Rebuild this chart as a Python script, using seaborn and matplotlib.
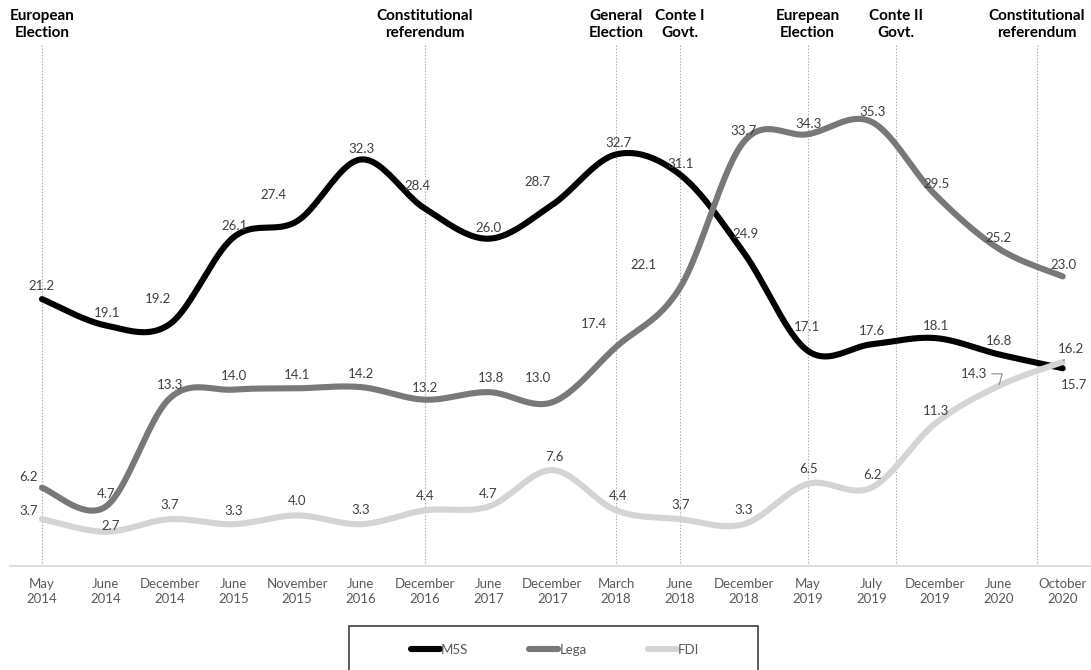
import numpy as np
import pandas as pd
import matplotlib
matplotlib.use("Agg")
import matplotlib.pyplot as plt
import seaborn as sns
from matplotlib.patches import Rectangle
from matplotlib.transforms import blended_transform_factory

# ---------------- data ----------------
periods = ["May\n2014", "June\n2014", "December\n2014", "June\n2015", "November\n2015",
           "June\n2016", "December\n2016", "June\n2017", "December\n2017", "March\n2018",
           "June\n2018", "December\n2018", "May\n2019", "July\n2019", "December\n2019",
           "June\n2020", "October\n2020"]
m5s = [21.2, 19.1, 19.2, 26.1, 27.4, 32.3, 28.4, 26.0, 28.7, 32.7, 31.1, 24.9, 17.1, 17.6, 18.1, 16.8, 15.7]
lega = [6.2, 4.7, 13.3, 14.0, 14.1, 14.2, 13.2, 13.8, 13.0, 17.4, 22.1, 33.7, 34.3, 35.3, 29.5, 25.2, 23.0]
fdi = [3.7, 2.7, 3.7, 3.3, 4.0, 3.3, 4.4, 4.7, 7.6, 4.4, 3.7, 3.3, 6.5, 6.2, 11.3, 14.3, 16.2]
parties = ["M5S", "Lega", "FDI"]
events = ["European\nElection", "Constitutional\nreferendum", "General\nElection", "Conte I\nGovt.",
          "Eurepean\nElection", "Conte II\nGovt.", "Constitutional\nreferendum"]
event_pos = [0, 6, 9, 10, 12, 13.38, 15.59]

# ---------------- styling / layout ----------------
colors = {"M5S": "#000000", "Lega": "#787878", "FDI": "#d4d4d4"}
m5s_off = [(0, 13), (1, 12), (-12, 25), (1, 11), (-24, 26), (1, 10), (-7, 23), (0, 11), (-15, 23),
           (2, 11), (1, 11), (2, 19), (-1, 24), (1, 13), (1, 12), (0, 13), (11, -17)]
lega_off = [(-13, 11), (0, 13), (0, 13), (1, 14), (0, 13), (0, 13), (0, 12), (2, 14), (-14, 24),
            (-22, 23), (-36, 23), (0, 11), (1, 10), (1, 10), (1, 11), (0, 11), (1, 11)]
fdi_off = [(-13, 8), (5, 6), (0, 14), (0, 13), (0, 14), (0, 14), (0, 14), (0, 13), (2, 13),
           (2, 14), (1, 14), (0, 14), (1, 15), (1, 13), (1, 13), (-25, 12), (8, 13)]
leader_style = {("FDI", 15): "angle,angleA=0,angleB=75,rad=0",
                ("FDI", 16): "arc3,rad=0"}

sns.set_theme(style="white")
plt.rcParams["font.family"] = ["Lato", "DejaVu Sans"]


def smooth(vals, n=24):
    """Excel-like smoothed line (Catmull-Rom Bezier through the points)."""
    P = np.column_stack([np.arange(len(vals), dtype=float), np.asarray(vals, float)])
    Pe = np.vstack([P[0], P, P[-1]])
    xs, ys = [], []
    t = np.linspace(0, 1, n, endpoint=False)[:, None]
    for i in range(len(P) - 1):
        p0, p1, p2, p3 = Pe[i], Pe[i + 1], Pe[i + 2], Pe[i + 3]
        b1 = p1 + (p2 - p0) / 6.0
        b2 = p2 - (p3 - p1) / 6.0
        c = ((1 - t) ** 3) * p1 + 3 * ((1 - t) ** 2) * t * b1 + 3 * (1 - t) * t ** 2 * b2 + t ** 3 * p2
        xs.extend(c[:, 0]); ys.extend(c[:, 1])
    xs.append(P[-1, 0]); ys.append(P[-1, 1])
    return xs, ys


series = {"M5S": m5s, "Lega": lega, "FDI": fdi}
offsets = {"M5S": m5s_off, "Lega": lega_off, "FDI": fdi_off}
rows = []
for p in parties:
    xs, ys = smooth(series[p])
    for k, (a, b) in enumerate(zip(xs, ys)):
        rows.append({"party": p, "x": a, "y": b, "order": k})
df = pd.DataFrame(rows)

W, H = 1091, 670
fig = plt.figure(figsize=(W / 100, H / 100), dpi=100)
ax = fig.add_axes([10.1 / W, 1 - 565.7 / H, (1094.6 - 10.1) / W, (565.7 - 45) / H])

for p in event_pos:
    ax.axvline(p, color="#a6a6a6", lw=0.8, ls=(0, (1.2, 1.6)), zorder=1)

sns.lineplot(data=df, x="x", y="y", hue="party", hue_order=parties, palette=colors,
             sort=False, estimator=None, units="party", linewidth=4.4, ax=ax,
             solid_capstyle="round", solid_joinstyle="round", zorder=3)
handles, labels = ax.get_legend_handles_labels()
if ax.get_legend() is not None:
    ax.get_legend().remove()

ax.set_xlim(-0.5, 16.5)
ax.set_ylim(0, 41.4)
ax.set_xlabel("")
ax.set_ylabel("")
ax.set_yticks([])
ax.set_xticks(range(len(periods)))
ax.set_xticklabels(periods)
ax.tick_params(axis="x", length=0, pad=8.5, labelsize=9.5, colors="#595959")
for lbl in ax.get_xticklabels():
    lbl.set_linespacing(1.32)
for s in ["left", "right", "top"]:
    ax.spines[s].set_visible(False)
ax.spines["bottom"].set_color("#d9d9d9")
ax.spines["bottom"].set_linewidth(1.2)

# data labels
for p in parties:
    for i, v in enumerate(series[p]):
        dx, dy = offsets[p][i]
        kw = {}
        if (p, i) in leader_style:
            kw["arrowprops"] = dict(arrowstyle="-", color="#8c8c8c", lw=0.8, shrinkA=1, shrinkB=1,
                                    connectionstyle=leader_style[(p, i)])
        ax.annotate(f"{v:.1f}", xy=(i, v), xytext=(dx, dy), textcoords="offset pixels",
                    ha="center", va="center", fontsize=9.5, color="#404040", zorder=5, **kw)

# event labels
tr = blended_transform_factory(ax.transData, fig.transFigure)
for name, p in zip(events, event_pos):
    ax.text(p, 1 - 24.5 / H, name, transform=tr, ha="center", va="center", fontsize=11,
            fontweight="bold", color="#000000", linespacing=1.3, clip_on=False)

# legend
fig.add_artist(Rectangle((349 / W, 1 - 674 / H), 409 / W, 48 / H, transform=fig.transFigure,
                         fill=False, edgecolor="#404040", lw=1.2))
fig.legend(handles, labels, loc="center", bbox_to_anchor=(555 / W, 1 - 650 / H), ncol=3,
           frameon=False, handlelength=2.2, handletextpad=0.1, columnspacing=4.6,
           fontsize=9.5, labelcolor="#595959")

fig.savefig("out.png", dpi=100)
